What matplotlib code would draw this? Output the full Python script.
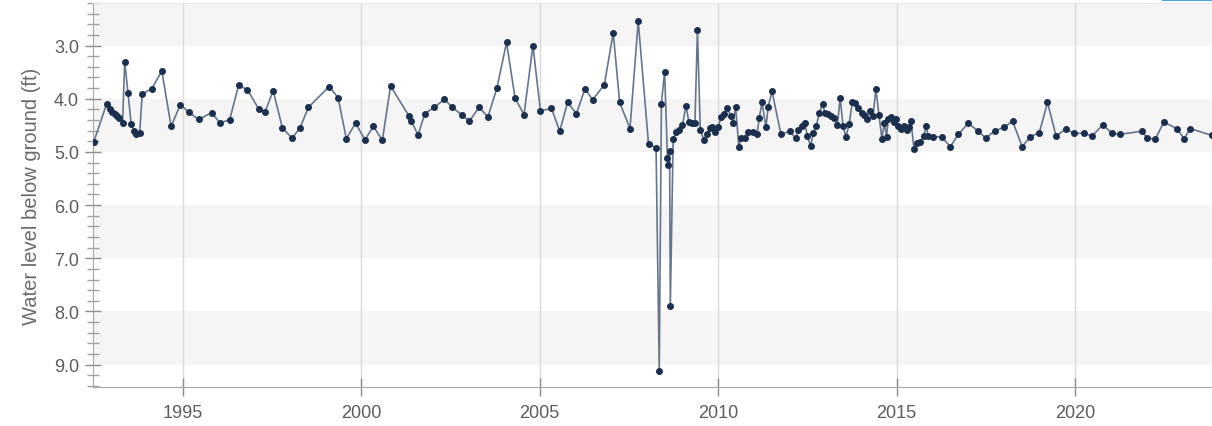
import matplotlib.pyplot as plt
from matplotlib.lines import Line2D
from matplotlib.ticker import MultipleLocator, FormatStrFormatter

# Depth to water (ft below ground), sampled at decimal-year dates
years = [
    1992.50, 1992.86, 1992.95, 1993.02, 1993.09, 1993.15, 1993.21, 1993.31, 1993.37, 1993.46,
    1993.55, 1993.62, 1993.70, 1993.79, 1993.86, 1994.13, 1994.41, 1994.67, 1994.93, 1995.16,
    1995.44, 1995.81, 1996.03, 1996.31, 1996.56, 1996.81, 1997.13, 1997.30, 1997.53, 1997.79,
    1998.06, 1998.28, 1998.52, 1999.10, 1999.35, 1999.58, 1999.84, 2000.10, 2000.34, 2000.59,
    2000.82, 2001.34, 2001.40, 2001.59, 2001.78, 2002.05, 2002.33, 2002.53, 2002.81, 2003.03,
    2003.30, 2003.55, 2003.80, 2004.07, 2004.31, 2004.56, 2004.81, 2005.02, 2005.33, 2005.56,
    2005.78, 2006.03, 2006.27, 2006.48, 2006.81, 2007.06, 2007.24, 2007.53, 2007.76, 2008.05,
    2008.26, 2008.35, 2008.41, 2008.50, 2008.58, 2008.60, 2008.64, 2008.66, 2008.74, 2008.83,
    2008.91, 2009.00, 2009.10, 2009.18, 2009.28, 2009.35, 2009.42, 2009.50, 2009.60, 2009.68,
    2009.78, 2009.84, 2009.91, 2010.00, 2010.08, 2010.17, 2010.26, 2010.35, 2010.42, 2010.49,
    2010.58, 2010.64, 2010.75, 2010.85, 2010.98, 2011.09, 2011.15, 2011.23, 2011.34, 2011.40,
    2011.51, 2011.76, 2012.00, 2012.18, 2012.24, 2012.34, 2012.43, 2012.50, 2012.59, 2012.67,
    2012.75, 2012.83, 2012.93, 2012.99, 2013.08, 2013.16, 2013.24, 2013.34, 2013.42, 2013.50,
    2013.58, 2013.67, 2013.76, 2013.83, 2013.93, 2014.02, 2014.10, 2014.17, 2014.25, 2014.34,
    2014.42, 2014.51, 2014.59, 2014.66, 2014.72, 2014.77, 2014.85, 2014.92, 2014.98, 2015.05,
    2015.12, 2015.21, 2015.29, 2015.35, 2015.40, 2015.49, 2015.57, 2015.66, 2015.76, 2015.83,
    2015.88, 2016.03, 2016.26, 2016.51, 2016.73, 2017.01, 2017.27, 2017.50, 2017.76, 2018.01,
    2018.25, 2018.52, 2018.75, 2019.00, 2019.23, 2019.47, 2019.74, 2019.98, 2020.26, 2020.48,
    2020.78, 2021.04, 2021.25, 2021.87, 2022.03, 2022.25, 2022.49, 2022.85, 2023.06, 2023.23,
    2023.84,
]
depth_ft = [
    4.82, 4.10, 4.20, 4.25, 4.29, 4.33, 4.36, 4.45, 3.30, 3.89,
    4.47, 4.60, 4.67, 4.64, 3.91, 3.81, 3.48, 4.52, 4.11, 4.25,
    4.39, 4.26, 4.45, 4.40, 3.75, 3.83, 4.20, 4.25, 3.85, 4.55,
    4.74, 4.55, 4.16, 3.77, 3.98, 4.75, 4.46, 4.77, 4.52, 4.78,
    3.76, 4.33, 4.42, 4.68, 4.28, 4.16, 4.01, 4.15, 4.30, 4.42,
    4.16, 4.34, 3.80, 2.94, 3.99, 4.30, 3.00, 4.23, 4.18, 4.61,
    4.07, 4.28, 3.81, 4.02, 3.74, 2.76, 4.07, 4.56, 2.54, 4.86,
    4.92, 9.11, 4.09, 3.49, 5.11, 5.25, 4.98, 7.90, 4.75, 4.62,
    4.59, 4.49, 4.13, 4.44, 4.45, 4.45, 2.71, 4.59, 4.77, 4.67,
    4.55, 4.54, 4.62, 4.54, 4.35, 4.28, 4.18, 4.32, 4.45, 4.16,
    4.90, 4.74, 4.73, 4.62, 4.62, 4.67, 4.37, 4.07, 4.54, 4.16,
    3.86, 4.67, 4.61, 4.74, 4.59, 4.51, 4.46, 4.70, 4.89, 4.64,
    4.52, 4.27, 4.09, 4.27, 4.29, 4.32, 4.37, 4.50, 3.98, 4.51,
    4.72, 4.48, 4.07, 4.08, 4.18, 4.26, 4.31, 4.38, 4.23, 4.32,
    3.82, 4.31, 4.76, 4.45, 4.71, 4.38, 4.35, 4.44, 4.38, 4.51,
    4.57, 4.51, 4.59, 4.54, 4.42, 4.94, 4.84, 4.82, 4.70, 4.51,
    4.70, 4.71, 4.72, 4.90, 4.67, 4.46, 4.60, 4.74, 4.60, 4.54,
    4.42, 4.90, 4.71, 4.64, 4.07, 4.70, 4.57, 4.65, 4.65, 4.70,
    4.49, 4.65, 4.67, 4.61, 4.74, 4.76, 4.44, 4.56, 4.75, 4.56,
    4.69,
]

year_ticks = [1995, 2000, 2005, 2010, 2015, 2020]
band_edges = [(2.0, 3.0), (4.0, 5.0), (6.0, 7.0), (8.0, 9.0)]

plt.rcParams['font.family'] = ['Liberation Sans', 'DejaVu Sans']

fig = plt.figure(figsize=(12.12, 4.27), dpi=100)
ax = fig.add_axes([0.0767, 0.0913, 0.9233, 0.8993])

# alternating horizontal bands
for lo, hi in band_edges:
    ax.axhspan(lo, hi, color='#f5f5f5', zorder=0, lw=0)

for yr in year_ticks:
    ax.axvline(yr, color='#d9d9d9', lw=1.0, zorder=1)

ax.plot(years, depth_ft, color='#66758b', lw=1.2, zorder=2, clip_on=True)
ax.plot(years, depth_ft, ls='none', marker='o', ms=4.0,
        color='#1c2f4c', zorder=3, clip_on=True)

ax.set_xlim(1992.48, 2023.84)
ax.set_ylim(9.42, 2.2)

ax.set_xticks(year_ticks)
ax.yaxis.set_major_locator(MultipleLocator(1.0))
ax.yaxis.set_minor_locator(MultipleLocator(0.2))
ax.yaxis.set_major_formatter(FormatStrFormatter('%.1f'))

ax.tick_params(axis='x', which='major', direction='inout', length=13, width=1,
               color='#8c8c8c', labelsize=13, labelcolor='#5c5c5c', pad=6)
ax.tick_params(axis='y', which='major', direction='inout', length=12, width=1,
               color='#8c8c8c', labelsize=13, labelcolor='#5c5c5c', pad=4)
ax.tick_params(axis='y', which='minor', direction='inout', length=8, width=1,
               color='#a0a0a0')

for side in ['left', 'bottom']:
    ax.spines[side].set_color('#a6a6a6')
ax.spines['top'].set_color('#e6e6e6')
ax.spines['right'].set_visible(False)

ax.set_ylabel('Water level below ground (ft)', fontsize=14.5, color='#6a6a6a', labelpad=9)

# small accent line at the top right corner
fig.add_artist(Line2D([1163 / 1212, 1.0], [0.997, 0.997], color='#4aa3df', lw=1.5))

fig.savefig('out.png', dpi=100)
